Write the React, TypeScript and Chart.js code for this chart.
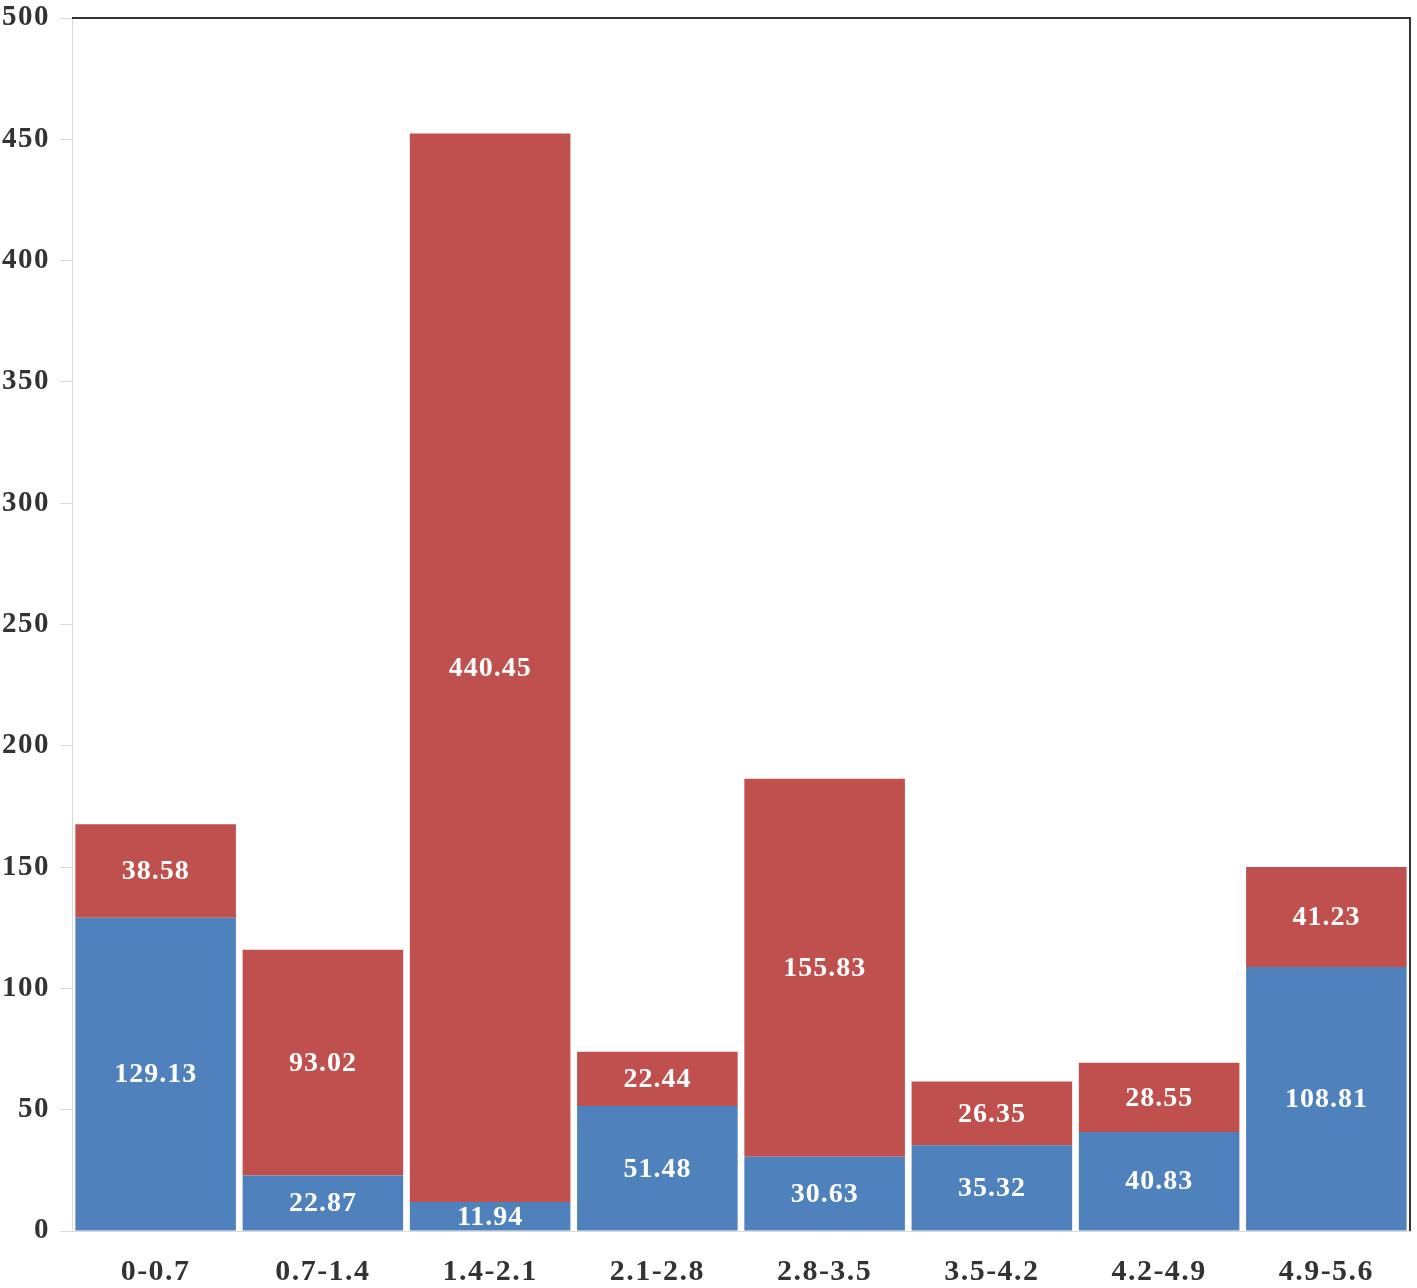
import React, { useEffect, useRef } from 'react';
import { Chart, registerables } from 'chart.js';
Chart.register(...registerables);

const categories = ['0-0.7', '0.7-1.4', '1.4-2.1', '2.1-2.8', '2.8-3.5', '3.5-4.2', '4.2-4.9', '4.9-5.6'];
const blueValues = [129.13, 22.87, 11.94, 51.48, 30.63, 35.32, 40.83, 108.81];
const redValues = [38.58, 93.02, 440.45, 22.44, 155.83, 26.35, 28.55, 41.23];
const yMin = 0;
const yMax = 500;
const yStep = 50;

const FONT_FAMILY = '"Liberation Serif", "Times New Roman", serif';

// value labels + letter spacing tricks + frame on top/right
const barLabels = {
  id: 'barLabels',
  beforeDraw(chart: any) {
    chart.ctx.letterSpacing = '1.5px';
  },
  afterDatasetsDraw(chart: any) {
    const ctx = chart.ctx;
    ctx.save();
    ctx.letterSpacing = '1px';
    ctx.font = `bold 28px ${FONT_FAMILY}`;
    ctx.fillStyle = '#ffffff';
    ctx.textAlign = 'center';
    ctx.textBaseline = 'middle';
    chart.data.datasets.forEach((ds: any, i: number) => {
      chart.getDatasetMeta(i).data.forEach((bar: any, j: number) => {
        const { x, y, base } = bar.getProps(['x', 'y', 'base'], true);
        ctx.fillText(Number(ds.data[j]).toFixed(2), x, (y + base) / 2 + 1);
      });
    });
    ctx.restore();
    // x axis (z: 1) is drawn after this
    ctx.letterSpacing = '5px';
  },
  afterDraw(chart: any) {
    const ctx = chart.ctx;
    const { left, right, top, bottom } = chart.chartArea;
    ctx.letterSpacing = '0px';
    ctx.save();
    ctx.strokeStyle = '#333333';
    ctx.lineWidth = 2;
    ctx.beginPath();
    ctx.moveTo(left, top);
    ctx.lineTo(right, top);
    ctx.lineTo(right, bottom);
    ctx.stroke();
    ctx.restore();
  },
};

export default function App() {
  const canvasRef = useRef<HTMLCanvasElement>(null);
  const chartRef = useRef<Chart | null>(null);

  useEffect(() => {
    if (!canvasRef.current) return;
    if (chartRef.current) chartRef.current.destroy();

    chartRef.current = new Chart(canvasRef.current, {
      type: 'bar',
      data: {
        labels: categories,
        datasets: [
          {
            label: 'blue',
            data: blueValues,
            backgroundColor: '#4F81BD',
            borderWidth: 0,
            barPercentage: 0.96,
            categoryPercentage: 1,
          },
          {
            label: 'red',
            data: redValues,
            backgroundColor: '#C0504D',
            borderWidth: 0,
            barPercentage: 0.96,
            categoryPercentage: 1,
          },
        ],
      },
      options: {
        animation: false,
        responsive: true,
        maintainAspectRatio: false,
        layout: { padding: { top: 18, right: 7, left: 0, bottom: 0 } },
        plugins: {
          legend: { display: false },
          tooltip: { enabled: false },
        },
        scales: {
          x: {
            stacked: true,
            z: 1,
            grid: { display: false, drawTicks: false },
            border: { display: true, color: '#d9d9d9', width: 1 },
            ticks: {
              color: '#333333',
              padding: 23,
              font: { family: FONT_FAMILY, size: 30, weight: 'bold' },
            },
            afterFit: (scale: any) => {
              scale.height = 57;
            },
          },
          y: {
            stacked: true,
            min: yMin,
            max: yMax,
            grid: {
              drawOnChartArea: false,
              drawTicks: true,
              tickLength: 12,
              color: '#d9d9d9',
            },
            border: { display: true, color: '#d9d9d9', width: 1 },
            ticks: {
              stepSize: yStep,
              color: '#333333',
              padding: 10,
              font: { family: FONT_FAMILY, size: 29, weight: 'bold' },
            },
            afterFit: (scale: any) => {
              scale.width = 72;
              scale.paddingTop = 0;
              scale.paddingBottom = 0;
            },
          },
        },
      },
      plugins: [barLabels],
    } as any);

    return () => {
      if (chartRef.current) {
        chartRef.current.destroy();
        chartRef.current = null;
      }
    };
  }, []);

  return (
    <div style={{ position: 'absolute', left: 0, top: 0, width: 1417, height: 1288, background: '#fff' }}>
      <canvas ref={canvasRef} />
    </div>
  );
}
